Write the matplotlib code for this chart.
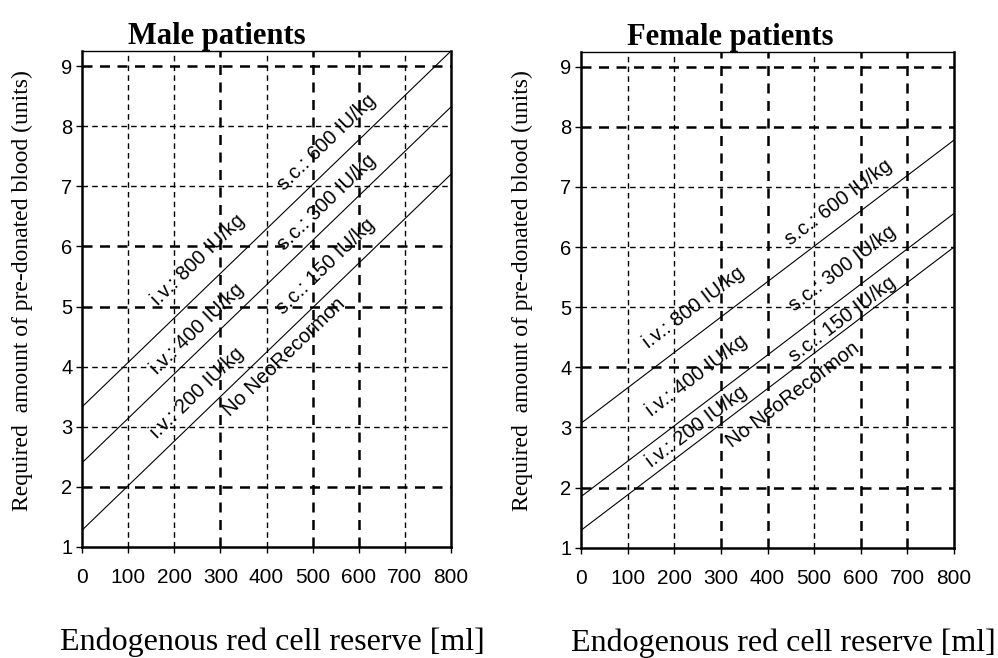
import numpy as np
import matplotlib
matplotlib.use("Agg")
import matplotlib.pyplot as plt

# x range of the lines (ml)
x_ends = [0, 800]

# male panel: y at x=0 and x=800 for each line (units)
male_lines = [[3.33, 9.25], [2.40, 8.32], [1.28, 7.20]]
# female panel
female_lines = [[3.07, 7.78], [1.85, 6.56], [1.29, 6.00]]

# line labels: text, x, y (data position of label centre), line index for angle
male_labels = [
    ("i.v.: 800 IU/kg", 252, 5.77, 0),
    ("s.c.: 600 IU/kg", 531, 7.73, 0),
    ("i.v.: 400 IU/kg", 249, 4.62, 1),
    ("s.c.: 300 IU/kg", 531, 6.73, 1),
    ("i.v.: 200 IU/kg", 250, 3.57, 2),
    ("s.c.: 150 IU/kg", 529, 5.67, 2),
    ("No NeoRecormon", 438, 4.16, 2),
]
female_labels = [
    ("i.v.: 800 IU/kg", 242, 5.00, 0),
    ("s.c.: 600 IU/kg", 552, 6.75, 0),
    ("i.v.: 400 IU/kg", 249, 3.86, 1),
    ("s.c.: 300 IU/kg", 560, 5.65, 1),
    ("i.v.: 200 IU/kg", 249, 3.02, 2),
    ("s.c.: 150 IU/kg", 560, 4.79, 2),
    ("No NeoRecormon", 455, 3.54, 2),
]

xticks = [0, 100, 200, 300, 400, 500, 600, 700, 800]
yticks = [1, 2, 3, 4, 5, 6, 7, 8, 9]

# grid lines that print heavier in the scan
male_bold_x = [300, 500, 600]
male_bold_y = [2, 5, 6, 9]
female_bold_x = [300, 400, 600, 700]
female_bold_y = [2, 4, 8, 9]

sans = "Liberation Sans"
serif = "Liberation Serif"

fig = plt.figure(figsize=(9.98, 6.58), dpi=100)
ax1 = fig.add_axes([0.0822, 0.1687, 0.3697, 0.7538])
ax2 = fig.add_axes([0.5822, 0.1676, 0.3737, 0.7538])

panels = [
    (ax1, "Male patients", male_lines, male_labels, male_bold_x, male_bold_y, 0.516, 0.366, -0.133),
    (ax2, "Female patients", female_lines, female_labels, female_bold_x, female_bold_y, 0.543, 0.399, -0.129),
]

for ax, title, lines, labels, bold_x, bold_y, xl_pos, t_pos, yl_pos in panels:
    ax.set_xlim(0, 800)
    ax.set_ylim(1, 9.25)

    for xv in xticks[1:-1]:
        lw = 1.8 if xv in bold_x else 1.0
        ax.axvline(xv, color="black", lw=lw, ls=(0, (4, 3)), zorder=1)
    for yv in yticks[1:]:
        lw = 1.8 if yv in bold_y else 1.0
        ax.axhline(yv, color="black", lw=lw, ls=(0, (4, 3)), zorder=1)

    for ys in lines:
        ax.plot(x_ends, ys, color="black", lw=0.8, zorder=2)

    for txt, lx, ly, idx in labels:
        ys = lines[idx]
        slope = (ys[1] - ys[0]) / (x_ends[1] - x_ends[0])
        ang = np.degrees(np.arctan(slope))
        ax.text(lx, ly, txt, rotation=ang, transform_rotates_text=True,
                rotation_mode="anchor", ha="center", va="center",
                fontsize=14.5, family=sans, zorder=3)

    ax.set_xticks(xticks)
    ax.set_yticks(yticks)
    ax.set_xticklabels([str(v) for v in xticks], family=sans, fontsize=15)
    ax.set_yticklabels([str(v) for v in yticks], family=sans, fontsize=14.5)
    ax.tick_params(direction="out", length=4, width=1.0, pad=11, axis="x")
    ax.tick_params(direction="out", length=4, width=1.0, pad=3, axis="y")
    for name, sp in ax.spines.items():
        sp.set_linewidth(1.0 if name == "top" else 1.8)

    ax.set_title(title, family=serif, fontsize=22, fontweight="bold", x=t_pos, pad=5)
    ax.set_ylabel("Required  amount of pre-donated blood (units)", family=serif, fontsize=17)
    ax.yaxis.set_label_coords(yl_pos, 0.518)
    ax.set_xlabel("Endogenous red cell reserve [ml]", family=serif, fontsize=23)
    ax.xaxis.set_label_coords(xl_pos, -0.163)

fig.savefig("out.png", dpi=100)
